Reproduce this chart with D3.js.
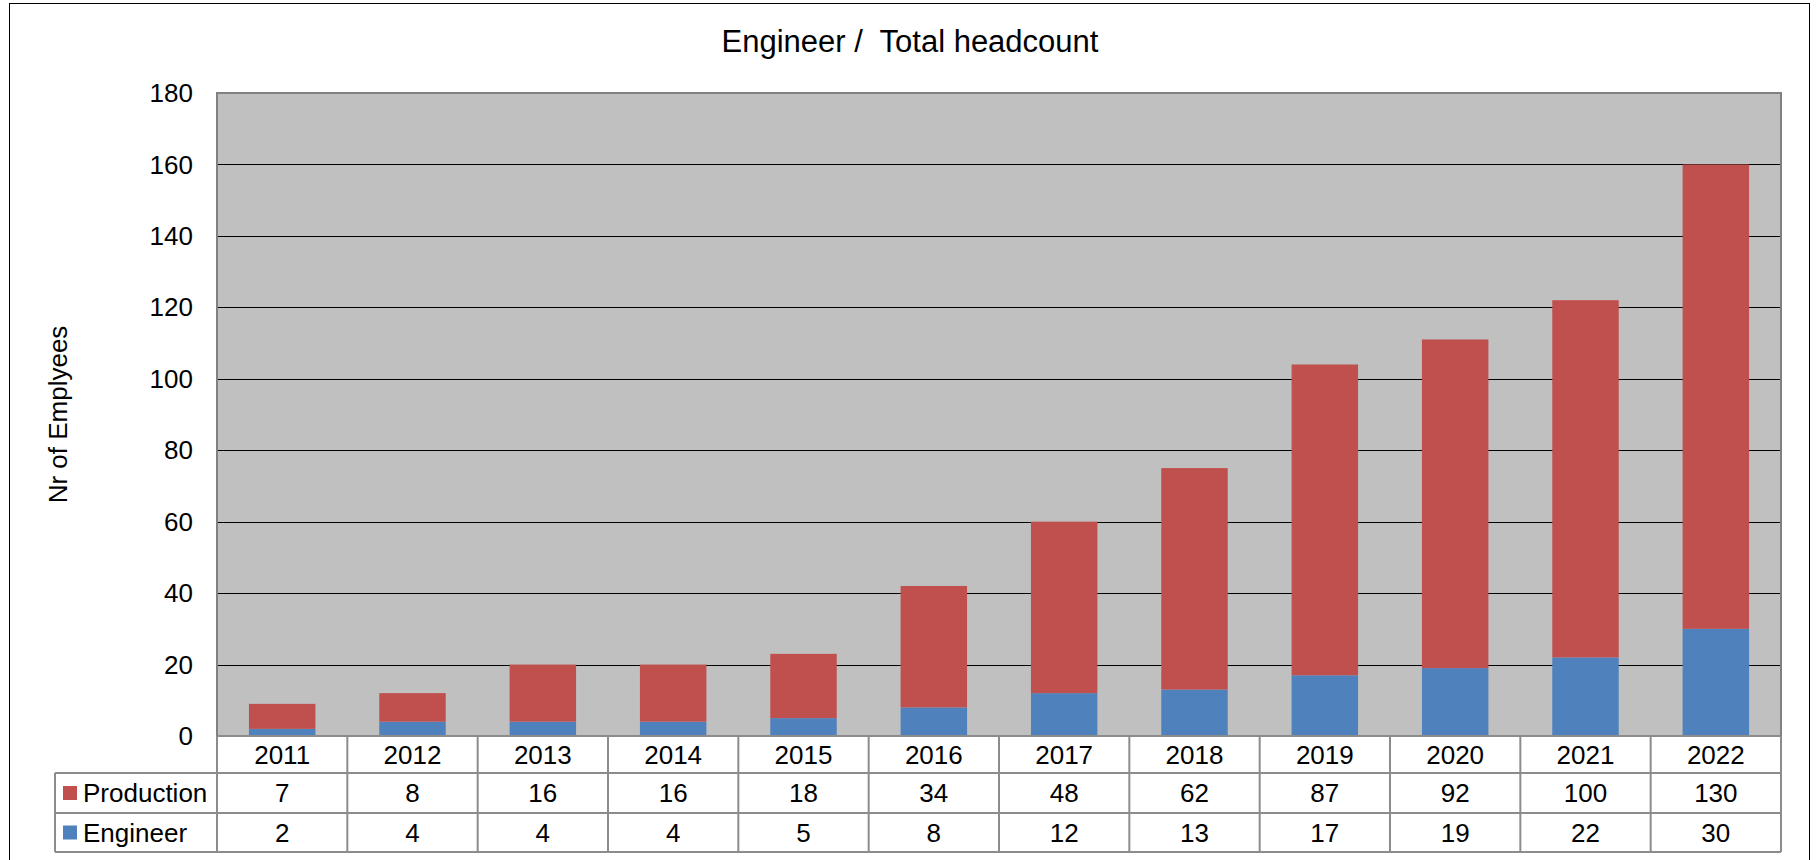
<!DOCTYPE html>
<html lang="en">
<head>
<meta charset="utf-8">
<title>Engineer / Total headcount</title>
<script src="https://d3js.org/d3.v7.min.js"></script>
<style>
  body { margin: 0; background: #fff; }
  svg text { font-family: Arial, "Liberation Sans", sans-serif; fill: #000; }
  .tick-label { font-size: 26px; }
  .cell-label { font-size: 26px; }
</style>
</head>
<body>
<div id="chart"></div>
<script>
var years = ["2011", "2012", "2013", "2014", "2015", "2016", "2017", "2018", "2019", "2020", "2021", "2022"];
var production = [7, 8, 16, 16, 18, 34, 48, 62, 87, 92, 100, 130];
var engineer = [2, 4, 4, 4, 5, 8, 12, 13, 17, 19, 22, 30];
var yTicks = [0, 20, 40, 60, 80, 100, 120, 140, 160, 180];

var series = [
  {name: "Production", values: production, color: "#C0504D"},
  {name: "Engineer", values: engineer, color: "#4F81BD"}
];

var W = 1819, H = 860;
var plot = {left: 217, right: 1781, top: 93, bottom: 736};
var rowH = [37, 40, 39];  // header, production, engineer rows
var tableLeft = 55;

var svg = d3.select("#chart").append("svg")
    .attr("width", W)
    .attr("height", H);

// outer frame
svg.append("rect")
    .attr("x", 9.5).attr("y", 3.5)
    .attr("width", 1800).attr("height", 900)
    .attr("fill", "none").attr("stroke", "#000").attr("stroke-width", 1);

svg.append("text")
    .attr("x", 910).attr("y", 52)
    .attr("text-anchor", "middle")
    .style("font-size", "31px")
    .style("white-space", "pre")
    .text("Engineer /  Total headcount");

var x = d3.scaleBand()
    .domain(years)
    .range([plot.left, plot.right])
    .paddingInner(0.49)
    .paddingOuter(0.245);

var xCell = d3.scaleBand()
    .domain(years)
    .range([plot.left, plot.right]);

var y = d3.scaleLinear()
    .domain([0, 180])
    .range([plot.bottom, plot.top]);

// plot background
svg.append("rect")
    .attr("x", plot.left).attr("y", plot.top)
    .attr("width", plot.right - plot.left).attr("height", plot.bottom - plot.top)
    .attr("fill", "#C0C0C0");

// gridlines
svg.append("g")
    .selectAll("line")
    .data(yTicks.filter(function(d) { return d > 0 && d < 180; }))
    .enter().append("line")
      .attr("x1", plot.left).attr("x2", plot.right)
      .attr("y1", function(d) { return Math.round(y(d)) + 0.5; })
      .attr("y2", function(d) { return Math.round(y(d)) + 0.5; })
      .attr("stroke", "#000").attr("stroke-width", 1);

// y tick labels
svg.append("g")
    .selectAll("text")
    .data(yTicks)
    .enter().append("text")
      .attr("class", "tick-label")
      .attr("x", 193)
      .attr("y", function(d) { return y(d); })
      .attr("dy", "0.35em")
      .attr("text-anchor", "end")
      .text(function(d) { return d; });

svg.append("text")
    .attr("transform", "translate(58," + ((plot.top + plot.bottom) / 2) + ") rotate(-90)")
    .attr("text-anchor", "middle")
    .attr("dy", "0.35em")
    .style("font-size", "26px")
    .text("Nr of Emplyees");

// stacked bars
var stackData = years.map(function(yr, i) {
  return {year: yr, Engineer: engineer[i], Production: production[i]};
});
var stack = d3.stack().keys(["Engineer", "Production"])(stackData);
var colorOf = {Engineer: "#4F81BD", Production: "#C0504D"};

svg.append("g")
    .selectAll("g")
    .data(stack)
    .enter().append("g")
      .attr("fill", function(d) { return colorOf[d.key]; })
    .selectAll("rect")
    .data(function(d) { return d; })
    .enter().append("rect")
      .attr("x", function(d) { return x(d.data.year); })
      .attr("width", x.bandwidth())
      .attr("y", function(d) { return y(d[1]); })
      .attr("height", function(d) { return y(d[0]) - y(d[1]); });

// plot border
svg.append("rect")
    .attr("x", plot.left).attr("y", plot.top)
    .attr("width", plot.right - plot.left).attr("height", plot.bottom - plot.top)
    .attr("fill", "none").attr("stroke", "#808080").attr("stroke-width", 2);

// data table
var rowTop = [plot.bottom, plot.bottom + rowH[0], plot.bottom + rowH[0] + rowH[1]];
var rowBot = [rowTop[1], rowTop[2], rowTop[2] + rowH[2]];
var table = svg.append("g");
var tableStroke = "#8c8c8c";

// horizontal lines
table.append("line")
    .attr("x1", plot.left).attr("x2", plot.right)
    .attr("y1", plot.bottom).attr("y2", plot.bottom);
[rowTop[1], rowTop[2], rowBot[2]].forEach(function(yy) {
  table.append("line")
      .attr("x1", tableLeft).attr("x2", plot.right)
      .attr("y1", yy).attr("y2", yy);
});
// vertical lines
table.append("line")
    .attr("x1", tableLeft).attr("x2", tableLeft)
    .attr("y1", rowTop[1]).attr("y2", rowBot[2]);
years.forEach(function(yr) {
  var xx = xCell(yr);
  table.append("line")
      .attr("x1", xx).attr("x2", xx)
      .attr("y1", plot.bottom).attr("y2", rowBot[2]);
});
table.append("line")
    .attr("x1", plot.right).attr("x2", plot.right)
    .attr("y1", plot.bottom).attr("y2", rowBot[2]);
table.selectAll("line").attr("stroke", tableStroke).attr("stroke-width", 2);

// header labels
table.selectAll("text.year")
    .data(years)
    .enter().append("text")
      .attr("class", "cell-label year")
      .attr("x", function(d) { return xCell(d) + xCell.bandwidth() / 2; })
      .attr("y", (rowTop[0] + rowBot[0]) / 2)
      .attr("dy", "0.35em")
      .attr("text-anchor", "middle")
      .text(function(d) { return d; });

series.forEach(function(s, si) {
  var r = si + 1;
  var cy = (rowTop[r] + rowBot[r]) / 2;
  table.append("rect")
      .attr("x", 63).attr("y", cy - 7)
      .attr("width", 14).attr("height", 14)
      .attr("fill", s.color);
  table.append("text")
      .attr("class", "cell-label")
      .attr("x", 83).attr("y", cy)
      .attr("dy", "0.35em")
      .text(s.name);
  table.selectAll("text.v" + r)
      .data(s.values)
      .enter().append("text")
        .attr("class", "cell-label v" + r)
        .attr("x", function(d, i) { return xCell(years[i]) + xCell.bandwidth() / 2; })
        .attr("y", cy)
        .attr("dy", "0.35em")
        .attr("text-anchor", "middle")
        .text(function(d) { return d; });
});
</script>
</body>
</html>
